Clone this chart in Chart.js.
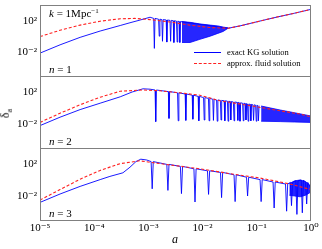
<!DOCTYPE html>
<html>
<head>
<meta charset="utf-8">
<script src="https://cdn.jsdelivr.net/npm/chart.js@4/dist/chart.umd.min.js"></script>
<style>
body { margin: 0; background: #fff; width: 322px; height: 249px; position: relative; overflow: hidden;
  font-family: 'Liberation Serif', 'DejaVu Serif', serif; }
canvas { position: absolute; left: 0; }
.t { position: absolute; font-size: 11px; color: #000; white-space: nowrap; line-height: 1; }
.leg { position: absolute; font-size: 8.5px; color: #000; white-space: nowrap; line-height: 1; }
sup { font-size: 7px; vertical-align: 4px; }
</style>
</head>
<body>
<canvas id="p1" width="322" height="71" style="top:5px"></canvas>
<canvas id="p2" width="322" height="72" style="top:76px"></canvas>
<canvas id="p3" width="322" height="101" style="top:148px"></canvas>

<div class="t" style="left:49px;top:8px"><i>k</i> = 1Mpc<sup>−1</sup></div>
<div class="t" style="left:49px;top:64px"><i>n</i> = 1</div>
<div class="t" style="left:49px;top:136px"><i>n</i> = 2</div>
<div class="t" style="left:49px;top:208px"><i>n</i> = 3</div>
<div style="position:absolute;left:194px;top:52px;width:27px;border-top:1px solid #0000ff"></div>
<div class="leg" style="left:227px;top:48px">exact KG solution</div>
<div style="position:absolute;left:194px;top:63px;width:27px;border-top:1px dashed #ff2020"></div>
<div class="leg" style="left:227px;top:59px">approx. fluid solution</div>
<div class="t" style="left:2px;top:106px;transform:rotate(-90deg);font-size:12px">δ<sub style="font-size:8px">a</sub></div>
<div class="t" style="left:172px;top:233px;font-size:12px"><i>a</i></div>

<script>
// axis ticks
var xTickVals = [1e-5, 1e-4, 1e-3, 1e-2, 1e-1, 1];
var xTickLabels = ['10⁻⁵', '10⁻⁴', '10⁻³', '10⁻²', '10⁻¹', '10⁰'];
var yTickVals = [1e-2, 1e2];
var yTickLabels = ['10⁻²', '10²'];

// all values below are log10(a) and log10(delta_a)

// n = 1
var n1FluidLogA = [-5, -4.63, -4.26, -3.89, -3.52, -3.25, -2.97, -2.6, -2.24, -1.87, -1.53, -1.31, -0.92, -0.61, -0.31, 0];
var n1FluidLogD = [0, 0.8, 1.45, 1.95, 2.25, 2.3, 2.15, 1.85, 1.45, 1.15, 1.05, 1.35, 2.0, 2.5, 2.95, 3.45];
var n1KgLogA = [-5, -4.63, -4.26, -3.89, -3.52, -3.34, -3.15, -2.97];
var n1KgLogD = [-2.1, -1.05, -0.1, 0.7, 1.4, 1.75, 2.1, 2.45];
var n1DipLogA = [-2.89, -2.80, -2.74, -2.66, -2.59, -2.53, -2.47, -2.42];
var n1DipTop = [2.3, 2.2, 2.15, 2.1, 2.05, 2.0, 1.95, 1.9];
var n1DipBot = [-1.5, 0.05, -0.6, -0.7, -0.6, -0.75, -0.7, -0.75];
var n1BandLogA = [-2.38, -2.23, -2.05, -1.86, -1.72, -1.62, -1.53];
var n1BandTop = [1.9, 1.8, 1.6, 1.45, 1.35, 1.2, 1.1];
var n1BandBot = [-0.75, -0.75, -0.35, 0.05, 0.4, 0.65, 1.05];
var n1TailLogA = [-1.53, -1.31, -0.92, -0.61, -0.31, 0];
var n1TailLogD = [1.05, 1.35, 2.0, 2.5, 2.95, 3.45];

// n = 2
var n2FluidLogA = [-5, -4.63, -4.26, -3.89, -3.52, -3.1, -2.79, -2.42, -2.05, -1.68, -1.13, -0.57, -0.2, 0];
var n2FluidLogD = [-1.8, -0.65, 0.4, 1.35, 2.1, 2.25, 2.15, 1.9, 1.6, 0.9, 0.3, -0.35, -0.75, -1.1];
var n2KgLogA = [-5, -4.63, -4.26, -3.89, -3.52, -3.3, -3.1, -2.97];
var n2KgLogD = [-2.2, -1.15, -0.2, 0.6, 1.4, 2.0, 2.4, 2.35];
var n2DipLogA = [-2.865, -2.62, -2.45, -2.31, -2.18, -2.07, -1.97, -1.88, -1.80, -1.73, -1.66, -1.59,
  -1.53, -1.48, -1.42, -1.35, -1.31, -1.25, -1.20, -1.16, -1.11, -1.06, -1.01, -0.97];
var n2DipTop = [2.25, 2.05, 1.9, 1.75, 1.6, 1.45, 1.3, 1.2, 1.1, 1.0, 0.95, 0.9,
  0.85, 0.8, 0.75, 0.7, 0.65, 0.6, 0.55, 0.5, 0.45, 0.4, 0.35, 0.3];
var n2DipBot = [-1.7, -1.3, -1.6, -1.55, -1.4, -1.6, -1.5, -1.6, -1.55, -1.65, -1.5, -1.6,
  -1.65, -1.5, -1.6, -1.55, -1.65, -1.6, -1.5, -1.65, -1.6, -1.55, -1.65, -1.6];
var n2BandLogA = [-0.92, -0.57, -0.3, 0];
var n2BandTop = [0.25, -0.25, -0.6, -1.0];
var n2BandBot = [-1.65, -1.7, -1.75, -1.8];

// n = 3
var n3FluidLogA = [-5, -4.63, -4.26, -3.89, -3.52, -3.16, -2.79, -2.05, -1.31, -0.94, -0.39, 0];
var n3FluidLogD = [-2.5, -1.2, 0.1, 1.2, 2.05, 2.4, 2.05, 1.4, 0.6, 0.25, -0.5, -1.2];
var n3KgLogA = [-5, -4.63, -4.26, -3.89, -3.71, -3.47, -3.34, -3.23, -3.14, -3.03];
var n3KgLogD = [-2.8, -1.75, -0.8, 0.05, 0.45, 0.9, 1.6, 2.3, 2.6, 2.5];
var n3DipLogA = [-2.93, -2.64, -2.39, -2.14, -1.89, -1.65, -1.40, -1.17, -0.92, -0.68, -0.45, -0.36, -0.26, -0.16, -0.08];
var n3DipTop = [2.3, 1.95, 1.7, 1.4, 1.15, 0.95, 0.65, 0.35, 0.05, -0.25, -0.5, -0.3, -0.1, 0.0, -0.3];
var n3DipBot = [-1.1, -1.3, -1.7, -2.75, -1.8, -2.2, -2.7, -2.0, -2.7, -3.5, -3.9, -3.2, -4.3, -4.1, -3.0];
var n3BandLogA = [-0.40, -0.30, -0.20, -0.10, 0];
var n3BandTop = [-0.45, -0.1, 0.0, -0.2, -0.8];
var n3BandBot = [-1.9, -2.0, -2.1, -1.9, -1.5];
var n3TailLogA = [0];
var n3TailLogD = [-1.1];

function pts(logA, logD) {
  return logA.map(function (v, i) {
    return { x: Math.pow(10, v), y: Math.pow(10, logD[i]) };
  });
}

// smooth rise, then one V per oscillation zero, then the tail
function kgLine(smoothA, smoothD, dipA, dipTop, dipBot, tailA, tailD, w) {
  var out = pts(smoothA, smoothD);
  dipA.forEach(function (v, i) {
    out.push({ x: Math.pow(10, v - w), y: Math.pow(10, dipTop[i]) });
    out.push({ x: Math.pow(10, v), y: Math.pow(10, dipBot[i]) });
    out.push({ x: Math.pow(10, v + w), y: Math.pow(10, dipTop[i]) });
  });
  return out.concat(pts(tailA, tailD));
}

var frame = {
  id: 'frame',
  afterDraw: function (chart) {
    var a = chart.chartArea;
    var ctx = chart.ctx;
    ctx.save();
    ctx.strokeStyle = '#808080';
    ctx.lineWidth = 1;
    ctx.strokeRect(a.left + 0.5, a.top + 0.5, a.right - a.left - 1, a.bottom - a.top);
    ctx.restore();
  }
};

var tickFont = { family: "'Liberation Serif', 'DejaVu Serif', serif", size: 11 };

function renderPanel(id, fluid, kg, bandA, bandTop, bandBot, showX) {
  var canvas = document.getElementById(id);
  new Chart(canvas, {
    type: 'line',
    data: {
      datasets: [
        { data: fluid, borderColor: '#ff2020', borderWidth: 1.1, borderDash: [3, 2] },
        { data: kg, borderColor: '#0000ff', borderWidth: 0.9 },
        { data: pts(bandA, bandTop), borderColor: '#0000ff', borderWidth: 0.8, fill: false },
        { data: pts(bandA, bandBot), borderColor: '#0000ff', borderWidth: 0.8, fill: '-1',
          backgroundColor: 'rgba(0,0,255,0.85)' }
      ]
    },
    options: {
      responsive: false,
      animation: false,
      events: [],
      elements: { point: { radius: 0 }, line: { tension: 0 } },
      layout: { padding: { left: 0, right: 11, top: 0, bottom: 0 } },
      plugins: { legend: { display: false }, tooltip: { enabled: false } },
      scales: {
        x: {
          type: 'logarithmic',
          min: 1e-5,
          max: 1,
          display: showX,
          afterBuildTicks: function (scale) {
            scale.ticks = xTickVals.map(function (v) { return { value: v }; });
          },
          afterFit: function (scale) {
            if (showX) scale.height = 29;
            scale.paddingLeft = 0;
            scale.paddingRight = 0;
          },
          ticks: {
            autoSkip: false,
            maxRotation: 0,
            color: '#000',
            font: tickFont,
            padding: 2,
            callback: function (value) {
              return xTickLabels[xTickVals.indexOf(value)];
            }
          },
          grid: { drawOnChartArea: false, drawTicks: false },
          border: { display: false }
        },
        y: {
          type: 'logarithmic',
          min: 1e-5,
          max: 1e4,
          afterBuildTicks: function (scale) {
            scale.ticks = yTickVals.map(function (v) { return { value: v }; });
          },
          afterFit: function (scale) {
            scale.width = 40;
            scale.paddingTop = 0;
            scale.paddingBottom = 0;
          },
          ticks: {
            color: '#000',
            font: tickFont,
            padding: 3,
            callback: function (value) {
              return yTickLabels[yTickVals.indexOf(value)];
            }
          },
          grid: { drawOnChartArea: false, drawTicks: false },
          border: { display: false }
        }
      }
    },
    plugins: [frame]
  });
}

renderPanel('p1', pts(n1FluidLogA, n1FluidLogD),
  kgLine(n1KgLogA, n1KgLogD, n1DipLogA, n1DipTop, n1DipBot, n1TailLogA, n1TailLogD, 0.012),
  n1BandLogA, n1BandTop, n1BandBot, false);
renderPanel('p2', pts(n2FluidLogA, n2FluidLogD),
  kgLine(n2KgLogA, n2KgLogD, n2DipLogA, n2DipTop, n2DipBot, [], [], 0.012),
  n2BandLogA, n2BandTop, n2BandBot, false);
renderPanel('p3', pts(n3FluidLogA, n3FluidLogD),
  kgLine(n3KgLogA, n3KgLogD, n3DipLogA, n3DipTop, n3DipBot, n3TailLogA, n3TailLogD, 0.02),
  n3BandLogA, n3BandTop, n3BandBot, true);
</script>
</body>
</html>
